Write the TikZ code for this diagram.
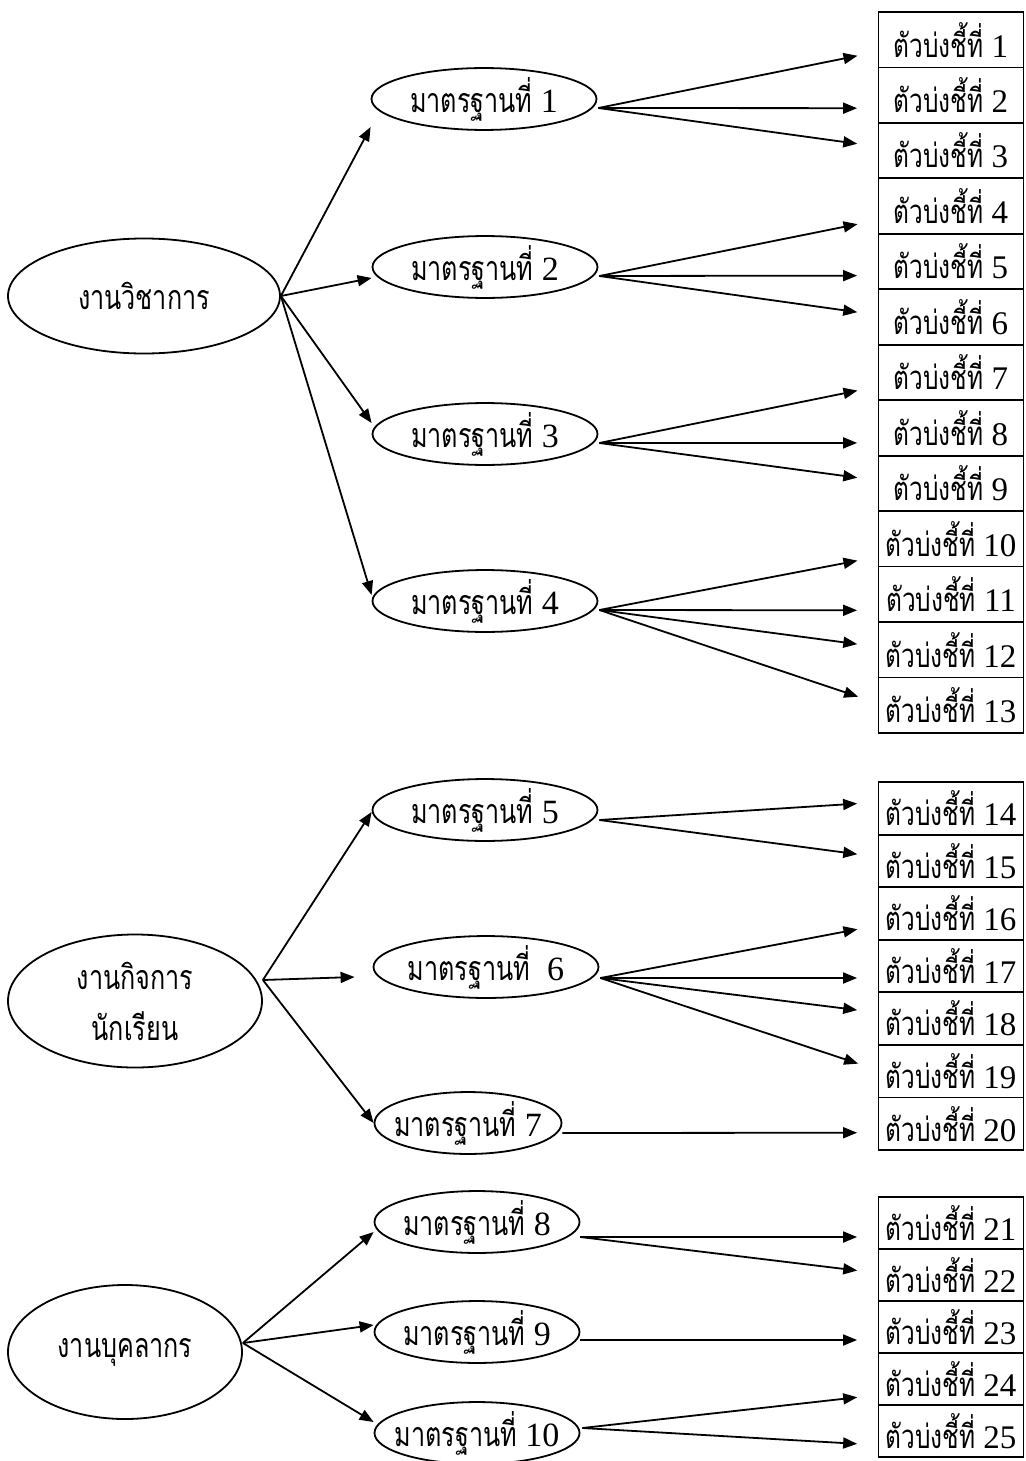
\documentclass[tikz,border=0pt]{standalone}
\usepackage{fontspec}
\setmainfont{Liberation Serif}
\newfontfamily\thaifont[Script=Thai,FakeStretch=0.74]{Loma}
\usetikzlibrary{shapes.geometric, arrows.meta, calc}
\newcommand{\mtr}[1]{\makebox[0pt]{{\thaifont มาตรฐานที่}\ #1}}
\newcommand{\tbc}[1]{{\thaifont ตัวบ่งชี้ที่}\ #1}

\begin{document}
\begin{tikzpicture}[x=1pt, y=-1pt,
            workbox/.style={ellipse, draw, line width=1.8pt, inner sep=0pt, align=center,
                            font=\fontsize{34}{51}\selectfont\thaifont},
            stdnode/.style={ellipse, draw, line width=1.8pt, inner sep=0pt, minimum width=225pt,
                            minimum height=58pt, font=\fontsize{34}{40}\selectfont},
            kpibox/.style={rectangle, draw, line width=1.8pt, inner sep=0pt, minimum width=145pt,
                           font=\fontsize{33}{40}\selectfont},
            arrow/.style={-{Triangle[length=14pt, width=11pt]}, line width=1.8pt},
            kpiarrow/.style={arrow, shorten >=20.5pt}
        ]
            \useasboundingbox (0,0) rectangle (1025,1461);

            % Work areas
            \node[workbox, minimum width=272pt, minimum height=115pt] (wc) at (144,296) {งานวิชาการ};
            \node[workbox, minimum width=254pt, minimum height=133pt] (gk) at (135,1001) {งานกิจการ\\นักเรียน};
            \node[workbox, minimum width=234pt, minimum height=134pt] (bk) at (125,1352) {งานบุคลากร};

            % Standards
            \node[stdnode] (m1) at (484,99) {\mtr{1}};
            \node[stdnode] (m2) at (485,267) {\mtr{2}};
            \node[stdnode] (m3) at (485,434) {\mtr{3}};
            \node[stdnode] (m4) at (485,601) {\mtr{4}};
            \node[stdnode] (m5) at (485,810) {\mtr{5}};
            \node[stdnode] (m6) at (486,967) {\mtr{\ 6}};
            \node[stdnode, minimum width=187pt] (m7) at (468,1123) {\mtr{7}};
            \node[stdnode, minimum width=205pt] (m8) at (477,1222) {\mtr{8}};
            \node[stdnode, minimum width=205pt] (m9) at (477,1332) {\mtr{9}};
            \node[stdnode, minimum width=205pt] (m10) at (477,1433) {\mtr{10}};

            % Indicators
            \node[kpibox, minimum height=55.5pt] (t1) at (951,39.7) {\tbc{1}};
            \node[kpibox, minimum height=55.5pt] (t2) at (951,95.2) {\tbc{2}};
            \node[kpibox, minimum height=55.5pt] (t3) at (951,150.6) {\tbc{3}};
            \node[kpibox, minimum height=55.5pt] (t4) at (951,206.1) {\tbc{4}};
            \node[kpibox, minimum height=55.5pt] (t5) at (951,261.6) {\tbc{5}};
            \node[kpibox, minimum height=55.5pt] (t6) at (951,317.0) {\tbc{6}};
            \node[kpibox, minimum height=55.5pt] (t7) at (951,372.5) {\tbc{7}};
            \node[kpibox, minimum height=55.5pt] (t8) at (951,427.9) {\tbc{8}};
            \node[kpibox, minimum height=55.5pt] (t9) at (951,483.4) {\tbc{9}};
            \node[kpibox, minimum height=55.5pt] (t10) at (951,538.8) {\tbc{10}};
            \node[kpibox, minimum height=55.5pt] (t11) at (951,594.3) {\tbc{11}};
            \node[kpibox, minimum height=55.5pt] (t12) at (951,649.8) {\tbc{12}};
            \node[kpibox, minimum height=55.5pt] (t13) at (951,705.2) {\tbc{13}};
            \node[kpibox, minimum height=52.6pt] (t14) at (951,808.3) {\tbc{14}};
            \node[kpibox, minimum height=52.6pt] (t15) at (951,860.9) {\tbc{15}};
            \node[kpibox, minimum height=52.6pt] (t16) at (951,913.4) {\tbc{16}};
            \node[kpibox, minimum height=52.6pt] (t17) at (951,966.0) {\tbc{17}};
            \node[kpibox, minimum height=52.6pt] (t18) at (951,1018.6) {\tbc{18}};
            \node[kpibox, minimum height=52.6pt] (t19) at (951,1071.1) {\tbc{19}};
            \node[kpibox, minimum height=52.6pt] (t20) at (951,1123.7) {\tbc{20}};
            \node[kpibox, minimum height=52pt] (t21) at (951,1223) {\tbc{21}};
            \node[kpibox, minimum height=52pt] (t22) at (951,1275) {\tbc{22}};
            \node[kpibox, minimum height=52pt] (t23) at (951,1327) {\tbc{23}};
            \node[kpibox, minimum height=52pt] (t24) at (951,1379) {\tbc{24}};
            \node[kpibox, minimum height=52pt] (t25) at (951,1431) {\tbc{25}};

            % Arrows to standards
            \draw[arrow] (wc.east) -- ($(m1.west)+(0,28)$);
            \draw[arrow] (wc.east) -- ($(m2.west)+(0,11)$);
            \draw[arrow] (wc.east) -- ($(m3.west)+(0,-11)$);
            \draw[arrow] (wc.east) -- ($(m4.west)+(0,-6)$);
            \draw[arrow] ($(gk.east)+(0,-21)$) -- ($(m5.west)+(0,2)$);
            \draw[arrow] ($(gk.east)+(0,-21)$) -- ($(m6.west)+(-18,10)$);
            \draw[arrow] ($(gk.east)+(0,-21)$) -- (m7.west);
            \draw[arrow] ($(bk.east)+(0,-9)$) -- ($(m8.west)+(0,10)$);
            \draw[arrow] ($(bk.east)+(0,-9)$) -- ($(m9.west)+(0,-7)$);
            \draw[arrow] ($(bk.east)+(0,-9)$) -- ($(m10.west)+(0,-11)$);

            % Arrows to indicators
            \draw[kpiarrow] ($(m1.east)+(1,9)$) -- ($(t1.west)+(0,12)$);
            \draw[kpiarrow] ($(m1.east)+(1,9)$) -- ($(t2.west)+(0,13)$);
            \draw[kpiarrow] ($(m1.east)+(1,9)$) -- ($(t3.west)+(0,-4)$);
            \draw[kpiarrow] ($(m2.east)+(1,9)$) -- ($(t4.west)+(0,14)$);
            \draw[kpiarrow] ($(m2.east)+(1,9)$) -- ($(t5.west)+(0,14)$);
            \draw[kpiarrow] ($(m2.east)+(1,9)$) -- ($(t6.west)+(0,-2)$);
            \draw[kpiarrow] ($(m3.east)+(1,9)$) -- ($(t7.west)+(0,14)$);
            \draw[kpiarrow] ($(m3.east)+(1,9)$) -- ($(t8.west)+(0,15)$);
            \draw[kpiarrow] ($(m3.east)+(1,9)$) -- ($(t9.west)+(0,-3)$);
            \draw[kpiarrow] ($(m4.east)+(1,9)$) -- ($(t10.west)+(0,18)$);
            \draw[kpiarrow] ($(m4.east)+(1,9)$) -- ($(t11.west)+(0,16)$);
            \draw[kpiarrow] ($(m4.east)+(1,9)$) -- ($(t12.west)+(0,-3)$);
            \draw[kpiarrow] ($(m4.east)+(1,9)$) -- ($(t13.west)+(0,-2)$);
            \draw[kpiarrow] ($(m5.east)+(1,10)$) -- ($(t14.west)+(0,-6)$);
            \draw[kpiarrow] ($(m5.east)+(1,10)$) -- ($(t15.west)+(0,-4)$);
            \draw[kpiarrow] ($(m6.east)+(1,11)$) -- ($(t16.west)+(0,12)$);
            \draw[kpiarrow] ($(m6.east)+(1,11)$) -- ($(t17.west)+(0,12)$);
            \draw[kpiarrow] ($(m6.east)+(1,11)$) -- ($(t18.west)+(0,-6)$);
            \draw[kpiarrow] ($(m6.east)+(1,11)$) -- ($(t19.west)+(0,-1)$);
            \draw[kpiarrow] ($(m7.east)+(0,10)$) -- ($(t20.west)+(0,9)$);
            \draw[kpiarrow] ($(m8.east)+(0,15)$) -- ($(t21.west)+(0,14)$);
            \draw[kpiarrow] ($(m8.east)+(0,15)$) -- ($(t22.west)+(0,-2)$);
            \draw[kpiarrow] ($(m9.east)+(0,8)$) -- ($(t23.west)+(0,13)$);
            \draw[kpiarrow] ($(m10.east)+(2,-5)$) -- ($(t24.west)+(0,16)$);
            \draw[kpiarrow] ($(m10.east)+(2,-5)$) -- ($(t25.west)+(0,14)$);
        \end{tikzpicture}
\end{document}
